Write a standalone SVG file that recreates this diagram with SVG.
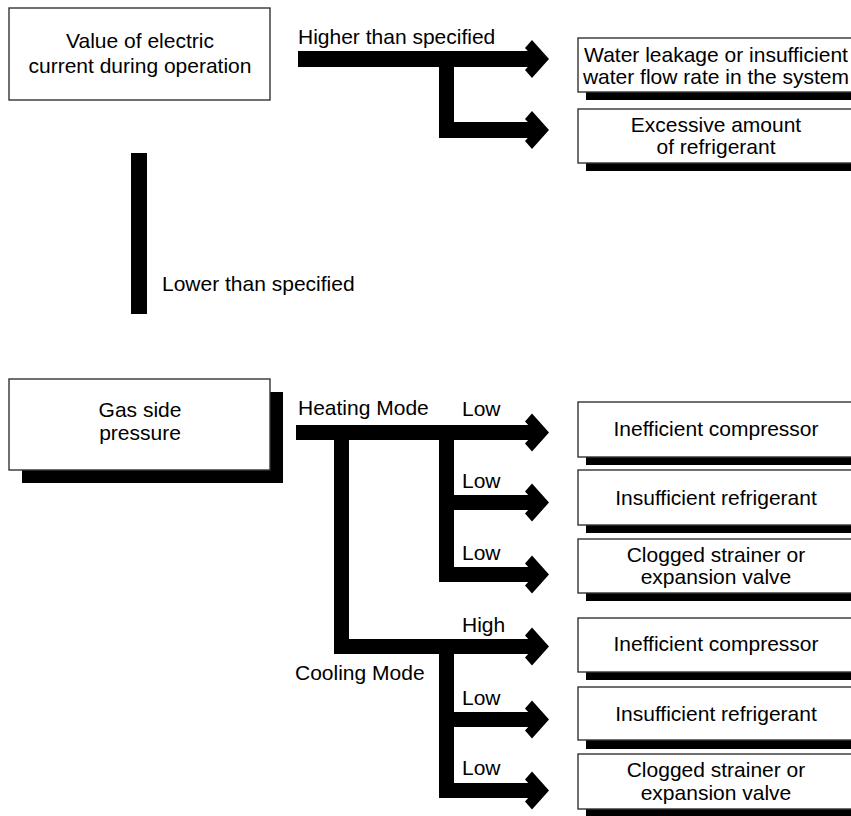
<svg xmlns="http://www.w3.org/2000/svg" width="851" height="816" viewBox="0 0 851 816">
<style>
  text { font-family: "Liberation Sans", Arial, sans-serif; font-size: 21px; fill: #000; }
  .c { text-anchor: middle; }
  .box { fill: #fff; stroke: #333; stroke-width: 1.4; }
  .shadow { fill: #000; }
  .bar { fill: #000; }
</style>
<defs>
  <polygon id="head" points="-24,-11 -17,-19 0,0 -17,19 -24,11 -14,0" fill="#000"/>
</defs>
<rect width="851" height="816" fill="#fff"/>

<g id="connectors">
  <!-- top section -->
  <rect class="bar" x="298" y="51" width="240" height="16"/>
  <rect class="bar" x="439" y="59" width="15" height="79"/>
  <rect class="bar" x="439" y="122" width="99" height="16"/>
  <use href="#head" x="549" y="59"/>
  <use href="#head" x="549" y="130"/>
  <!-- lower than specified -->
  <rect class="bar" x="131" y="153" width="16" height="161"/>
  <!-- heating -->
  <rect class="bar" x="296" y="425" width="242" height="15"/>
  <rect class="bar" x="334" y="425" width="15" height="229"/>
  <rect class="bar" x="439" y="432" width="15" height="150"/>
  <rect class="bar" x="439" y="495" width="99" height="15"/>
  <rect class="bar" x="439" y="567" width="99" height="15"/>
  <use href="#head" x="549" y="432.5"/>
  <use href="#head" x="549" y="502.5"/>
  <use href="#head" x="549" y="574.5"/>
  <!-- cooling -->
  <rect class="bar" x="334" y="639" width="204" height="15"/>
  <rect class="bar" x="439" y="646" width="15" height="152"/>
  <rect class="bar" x="439" y="712" width="99" height="15"/>
  <rect class="bar" x="439" y="783" width="99" height="15"/>
  <use href="#head" x="549" y="646.5"/>
  <use href="#head" x="549" y="719.5"/>
  <use href="#head" x="549" y="790.5"/>
</g>

<g id="labels">
  <text x="298" y="44">Higher than specified</text>
  <text x="162" y="291">Lower than specified</text>
  <text x="298" y="415">Heating Mode</text>
  <text x="462" y="416">Low</text>
  <text x="462" y="488">Low</text>
  <text x="462" y="560">Low</text>
  <text x="462" y="632">High</text>
  <text x="295" y="680">Cooling Mode</text>
  <text x="462" y="705">Low</text>
  <text x="462" y="775">Low</text>
</g>

<g id="n-current">
  <rect class="box" x="9" y="8" width="261" height="92"/>
  <text class="c" x="140" y="48">Value of electric</text>
  <text class="c" x="140" y="73">current during operation</text>
</g>

<g id="n-water">
  <rect class="shadow" x="586" y="46" width="276" height="54"/>
  <rect class="box" x="578" y="38" width="276" height="54"/>
  <text class="c" x="716" y="62">Water leakage or insufficient</text>
  <text class="c" x="716" y="84">water flow rate in the system</text>
</g>

<g id="n-excess">
  <rect class="shadow" x="586" y="117" width="276" height="54"/>
  <rect class="box" x="578" y="109" width="276" height="54"/>
  <text class="c" x="716" y="132">Excessive amount</text>
  <text class="c" x="716" y="154">of refrigerant</text>
</g>

<g id="n-gas">
  <rect class="shadow" x="22" y="392" width="261" height="91"/>
  <rect class="box" x="9" y="379" width="261" height="91"/>
  <text class="c" x="140" y="417">Gas side</text>
  <text class="c" x="140" y="440">pressure</text>
</g>

<g id="n-h-comp">
  <rect class="shadow" x="586" y="410" width="276" height="55"/>
  <rect class="box" x="578" y="402" width="276" height="55"/>
  <text class="c" x="716" y="436">Inefficient compressor</text>
</g>

<g id="n-h-ref">
  <rect class="shadow" x="586" y="478" width="276" height="55"/>
  <rect class="box" x="578" y="470" width="276" height="55"/>
  <text class="c" x="716" y="505">Insufficient refrigerant</text>
</g>

<g id="n-h-clog">
  <rect class="shadow" x="586" y="547" width="276" height="54"/>
  <rect class="box" x="578" y="539" width="276" height="54"/>
  <text class="c" x="716" y="562">Clogged strainer or</text>
  <text class="c" x="716" y="584">expansion valve</text>
</g>

<g id="n-c-comp">
  <rect class="shadow" x="586" y="626" width="276" height="54"/>
  <rect class="box" x="578" y="618" width="276" height="54"/>
  <text class="c" x="716" y="651">Inefficient compressor</text>
</g>

<g id="n-c-ref">
  <rect class="shadow" x="586" y="695" width="276" height="54"/>
  <rect class="box" x="578" y="687" width="276" height="53"/>
  <text class="c" x="716" y="721">Insufficient refrigerant</text>
</g>

<g id="n-c-clog">
  <rect class="shadow" x="586" y="762" width="276" height="55"/>
  <rect class="box" x="578" y="754" width="276" height="55"/>
  <text class="c" x="716" y="777">Clogged strainer or</text>
  <text class="c" x="716" y="800">expansion valve</text>
</g>
</svg>
